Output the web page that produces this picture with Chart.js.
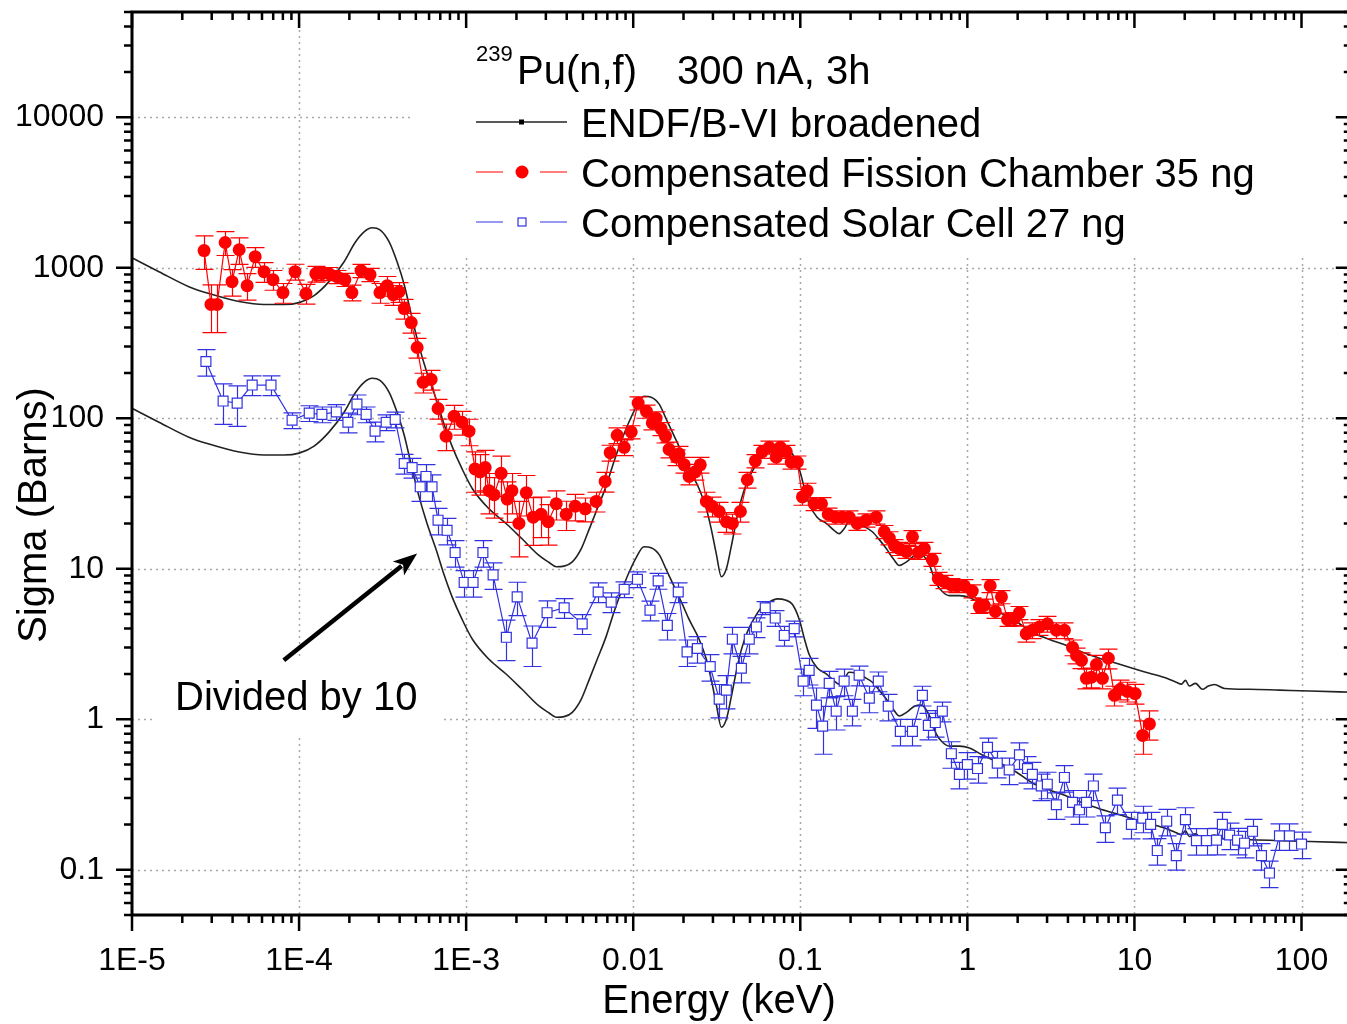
<!DOCTYPE html>
<html>
<head>
<meta charset="utf-8">
<title>239Pu(n,f) cross section</title>
<script src="https://cdn.jsdelivr.net/npm/chart.js@4.4.0/dist/chart.umd.min.js"></script>
<style>
    html, body { margin: 0; padding: 0; background: #fff; overflow: hidden; }
    #wrap { width: 1360px; height: 1024px; }
</style>
</head>
<body>
<div id="wrap"><canvas id="myChart1" width="1360" height="1024"></canvas></div>
<script>
// ENDF/B-VI broadened curve (keV, barns)
const endfEnergy = [
    1e-5, 1.45e-5, 2.19e-5, 2.89e-5, 4.38e-5, 6.17e-5, 8.13e-5, 1e-4, 1.23e-4, 1.51e-4,
    1.86e-4, 2.16e-4, 2.45e-4, 2.74e-4, 3.05e-4, 3.46e-4, 3.86e-4, 4.26e-4, 4.69e-4, 5.23e-4,
    5.84e-4, 6.61e-4, 7.38e-4, 8.24e-4, 9.46e-4, 1.09e-3, 1.37e-3, 1.74e-3, 2.16e-3, 2.74e-3,
    3.14e-3, 3.46e-3, 3.86e-3, 4.32e-3, 4.89e-3, 5.46e-3, 6.09e-3, 6.89e-3, 7.69e-3, 8.59e-3,
    9.46e-3, 1.04e-2, 1.16e-2, 1.28e-2, 1.43e-2, 1.58e-2, 1.76e-2, 1.97e-2, 2.16e-2, 2.48e-2,
    2.74e-2, 2.93e-2, 3.14e-2, 3.37e-2, 3.61e-2, 3.86e-2, 4.14e-2, 4.44e-2, 4.82e-2, 5.31e-2,
    5.84e-2, 6.52e-2, 7.28e-2, 8.13e-2, 8.96e-2, 9.86e-2, 0.106, 0.113, 0.126, 0.143,
    0.160, 0.171, 0.183, 0.196, 0.216, 0.242, 0.270, 0.297, 0.327, 0.361,
    0.392, 0.432, 0.482, 0.531, 0.592, 0.652, 0.708, 0.780, 0.896, 1.03,
    1.23, 1.56, 1.96, 2.45, 3.10, 3.92, 4.89, 6.17, 7.80, 9.73,
    12.3, 15.6, 17.8, 19.1, 20.2, 21.3, 23.2, 25.5, 27.7, 30.1,
    34.6, 48.9, 73.8, 112, 200
];
const endfSigma = [
    1164, 941, 748, 673, 596, 569, 569, 586, 653, 808,
    1096, 1465, 1731, 1841, 1786, 1487, 1096, 771, 489, 300,
    199, 134, 91, 65, 46, 34, 25, 19.9, 15.8, 12.2,
    11.0, 10.3, 10.4, 11.1, 13.6, 18.4, 25, 35.5, 52, 73,
    95, 118, 140, 138, 124, 98, 76, 58, 46, 34,
    25, 18.4, 12.6, 8.85, 10.0, 14.0, 20.8, 29, 38, 47,
    55, 60, 63, 62, 58, 46, 34, 26.9, 22, 20,
    17.9, 17.1, 18.4, 20.5, 20.2, 19.0, 17.6, 15.6, 13.6, 11.6,
    10.5, 11.1, 12.2, 12.4, 10.6, 7.96, 7.05, 6.62, 6.62, 6.43,
    5.78, 5.12, 4.46, 3.77, 3.39, 3.09, 2.78, 2.54, 2.35, 2.18,
    2.02, 1.87, 1.76, 1.71, 1.81, 1.66, 1.73, 1.58, 1.66, 1.70,
    1.60, 1.58, 1.56, 1.54, 1.51
];
const endfDivisor = 10; // lower copy of the curve, "Divided by 10"

// Compensated Fission Chamber 35 ng
const fcEnergy = [
    2.70e-5, 2.97e-5, 3.23e-5, 3.61e-5, 3.97e-5, 4.38e-5, 4.89e-5, 5.46e-5, 6.17e-5, 6.98e-5,
    8.01e-5, 9.46e-5, 1.10e-4, 1.26e-4, 1.37e-4, 1.51e-4, 1.69e-4, 1.88e-4, 2.07e-4, 2.35e-4,
    2.66e-4, 3.05e-4, 3.37e-4, 3.66e-4, 3.97e-4, 4.26e-4, 4.69e-4, 5.09e-4, 5.53e-4, 6.17e-4,
    6.79e-4, 7.59e-4, 8.47e-4, 9.46e-4, 1.04e-3, 1.13e-3, 1.21e-3, 1.30e-3, 1.37e-3, 1.47e-3,
    1.62e-3, 1.76e-3, 1.88e-3, 2.07e-3, 2.29e-3, 2.52e-3, 2.81e-3, 3.10e-3, 3.46e-3, 3.97e-3,
    4.50e-3, 5.16e-3, 6.00e-3, 6.79e-3, 7.28e-3, 8.02e-3, 8.83e-3, 9.73e-3, 1.07e-2, 1.20e-2,
    1.30e-2, 1.37e-2, 1.47e-2, 1.56e-2, 1.64e-2, 1.81e-2, 1.88e-2, 2.02e-2, 2.16e-2, 2.35e-2,
    2.52e-2, 2.74e-2, 2.97e-2, 3.27e-2, 3.61e-2, 3.92e-2, 4.38e-2, 4.82e-2, 5.38e-2, 5.92e-2,
    6.52e-2, 7.18e-2, 7.59e-2, 8.24e-2, 8.83e-2, 9.59e-2, 0.103, 0.110, 0.121, 0.134,
    0.147, 0.162, 0.178, 0.196, 0.219, 0.248, 0.285, 0.318, 0.341, 0.366,
    0.392, 0.432, 0.469, 0.509, 0.553, 0.617, 0.670, 0.728, 0.802, 0.871,
    0.959, 1.07, 1.18, 1.26, 1.37, 1.47, 1.60, 1.74, 1.91, 2.05,
    2.25, 2.45, 2.70, 3.01, 3.41, 3.81, 4.26, 4.50, 4.82, 5.16,
    5.53, 5.92, 6.43, 6.98, 7.59, 8.24, 9.08, 10.1, 11.2, 12.3
];
const fcSigma = [
    1300, 570, 570, 1470, 808, 1316, 760, 1183, 941, 833,
    683, 941, 673, 912, 912, 912, 871, 833, 683, 955,
    899, 683, 760, 662, 693, 535, 432, 295, 173, 181,
    116, 76, 103, 94, 82, 46, 44, 47, 33, 31,
    43, 29, 33, 20, 32, 22, 23, 20.5, 27, 23,
    26, 25, 28, 38, 59, 77, 64, 81, 126, 111,
    93, 100, 85, 76, 62, 55, 58, 49, 41, 44,
    49, 28, 26, 24, 20.5, 20, 24, 39, 52, 60,
    64, 55, 64, 60, 51, 51, 30, 33, 27, 27,
    23, 22, 22, 22, 20, 21, 22, 17.6, 16, 14.2,
    13.6, 13, 16.3, 12.8, 13.6, 11.5, 8.6, 8.2, 7.8, 7.7,
    7.7, 7.1, 5.6, 5.7, 7.7, 5.2, 6.5, 4.6, 4.65, 5.1,
    3.7, 3.9, 4.1, 4.3, 3.9, 3.9, 3.0, 2.65, 2.46, 1.87,
    1.9, 2.31, 1.87, 2.54, 1.44, 1.58, 1.53, 1.48, 0.78, 0.93
];
const fcErrPct = [
    25, 35, 35, 18, 20, 20, 20, 15, 15, 15,
    15, 12, 15, 12, 10, 10, 10, 10, 12, 10,
    10, 15, 15, 15, 15, 15, 15, 15, 15, 15,
    15, 20, 18, 18, 20, 30, 30, 30, 30, 30,
    30, 30, 30, 40, 30, 35, 30, 30, 22, 22,
    20, 18, 15, 15, 12, 12, 12, 10, 10, 10,
    10, 10, 10, 10, 12, 12, 12, 12, 12, 12,
    12, 15, 15, 15, 15, 15, 15, 12, 10, 10,
    10, 10, 10, 10, 10, 10, 12, 12, 10, 10,
    10, 10, 10, 10, 10, 10, 10, 10, 10, 10,
    10, 10, 10, 10, 10, 10, 10, 10, 10, 10,
    10, 10, 10, 10, 10, 10, 10, 10, 10, 10,
    12, 12, 12, 12, 12, 12, 12, 12, 12, 15,
    15, 15, 15, 15, 15, 15, 15, 15, 25, 22
];

// Compensated Solar Cell 27 ng (plotted divided by 10)
const scEnergy = [
    2.77e-5, 3.51e-5, 4.26e-5, 5.24e-5, 6.79e-5, 9.08e-5, 1.15e-4, 1.37e-4, 1.67e-4, 1.96e-4,
    2.22e-4, 2.52e-4, 2.85e-4, 3.32e-4, 3.76e-4, 4.26e-4, 4.75e-4, 5.31e-4, 5.75e-4, 6.25e-4,
    6.79e-4, 7.69e-4, 8.59e-4, 9.73e-4, 1.10e-3, 1.26e-3, 1.45e-3, 1.74e-3, 2.02e-3, 2.48e-3,
    3.05e-3, 3.86e-3, 4.95e-3, 6.17e-3, 7.38e-3, 8.83e-3, 1.06e-2, 1.26e-2, 1.41e-2, 1.60e-2,
    1.86e-2, 2.10e-2, 2.42e-2, 2.89e-2, 3.27e-2, 3.61e-2, 3.92e-2, 4.44e-2, 4.95e-2, 5.46e-2,
    6.17e-2, 7.08e-2, 8.02e-2, 9.20e-2, 0.104, 0.113, 0.125, 0.136, 0.149, 0.164,
    0.183, 0.205, 0.225, 0.259, 0.293, 0.336, 0.397, 0.469, 0.538, 0.584,
    0.643, 0.708, 0.802, 0.896, 1.00, 1.15, 1.32, 1.51, 1.78, 2.05,
    2.29, 2.45, 2.77, 3.01, 3.41, 3.81, 4.26, 4.69, 5.16, 5.68,
    6.70, 7.91, 9.59, 11.2, 12.5, 13.7, 15.6, 17.8, 20.2, 23.5,
    27.0, 31.0, 33.6, 37.1, 41.4, 45.6, 50.9, 57.6, 64.3, 73.8,
    84.7, 100
];
const scSigma = [
    238, 130, 126, 166, 166, 97, 108, 106, 110, 94,
    124, 106, 82, 94, 98, 50, 47, 35, 41, 35,
    21, 18, 12.8, 8.1, 8.1, 12.8, 9.1, 3.5, 6.5, 3.2,
    5.1, 5.5, 4.3, 7.0, 6.0, 7.3, 8.5, 5.3, 8.3, 4.2,
    7.0, 2.8, 2.95, 2.24, 1.36, 1.56, 3.4, 2.18, 3.4, 4.1,
    5.5, 4.7, 3.6, 4.0, 1.79, 2.11, 1.24, 0.90, 1.73, 1.13,
    1.79, 1.13, 1.96, 1.38, 1.79, 1.22, 0.83, 0.83, 1.44, 0.91,
    0.95, 1.13, 0.59, 0.43, 0.50, 0.47, 0.65, 0.51, 0.46, 0.58,
    0.47, 0.43, 0.36, 0.37, 0.27, 0.41, 0.28, 0.25, 0.28, 0.36,
    0.19, 0.29, 0.20, 0.22, 0.20, 0.134, 0.21, 0.124, 0.215, 0.156,
    0.156, 0.157, 0.20, 0.17, 0.157, 0.15, 0.18, 0.124, 0.095, 0.168,
    0.168, 0.148
];
const scErrPct = [
    20, 30, 30, 15, 15, 12, 12, 12, 12, 15,
    15, 12, 15, 12, 12, 15, 15, 20, 20, 20,
    20, 20, 20, 20, 20, 20, 20, 30, 25, 30,
    20, 15, 15, 15, 15, 12, 12, 15, 12, 20,
    15, 20, 20, 20, 25, 25, 20, 20, 20, 15,
    10, 12, 15, 12, 20, 20, 30, 35, 20, 25,
    20, 20, 15, 20, 15, 20, 20, 20, 15, 20,
    20, 15, 20, 20, 20, 20, 15, 20, 20, 20,
    20, 20, 20, 20, 20, 20, 20, 20, 20, 20,
    20, 20, 20, 20, 20, 20, 20, 20, 20, 20,
    20, 20, 20, 20, 20, 20, 20, 20, 20, 20,
    20, 20
];

const xTickValues = [1e-5, 1e-4, 1e-3, 0.01, 0.1, 1, 10, 100];
const xTickLabels = ['1E-5', '1E-4', '1E-3', '0.01', '0.1', '1', '10', '100'];
const yTickValues = [0.1, 1, 10, 100, 1000, 10000];
const yTickLabels = ['0.1', '1', '10', '100', '1000', '10000'];

// annotation anchors in data units (keV, barns)
const arrowFrom = [8.1e-5, 2.46];
const arrowTo = [5.09e-4, 12.6];
const noteAt = [1.81e-5, 1.15];

const FONT = 'Liberation Sans, Arial, sans-serif';
const RED = '#ff0000';
const BLUE = 'rgb(50, 50, 225)';

function toPoints(xs, ys) {
    return xs.map((x, i) => ({ x: x, y: ys[i] }));
}

function logTicks(min, max) {
    const out = [];
    for (let e = Math.floor(Math.log10(min)); e <= Math.ceil(Math.log10(max)); e++) {
        for (let k = 1; k <= 9; k++) {
            const v = k * Math.pow(10, e);
            if (v >= min * 0.999 && v <= max * 1.001) out.push({ v: v, major: k === 1 });
        }
    }
    return out;
}

const errorBars = {
    id: 'errorBars',
    beforeDatasetDraw(chart, args) {
        const ds = chart.data.datasets[args.index];
        if (!ds.errPct) return;
        const { ctx, chartArea, scales: { x, y } } = chart;
        ctx.save();
        ctx.beginPath();
        ctx.rect(chartArea.left, chartArea.top, chartArea.width, chartArea.height);
        ctx.clip();
        ctx.strokeStyle = ds.borderColor;
        ctx.lineWidth = 1.2;
        ctx.beginPath();
        ds.data.forEach((p, i) => {
            const d = p.y * ds.errPct[i] / 100;
            const px = Math.round(x.getPixelForValue(p.x)) + 0.5;
            const t = y.getPixelForValue(p.y + d);
            const b = y.getPixelForValue(p.y - d);
            ctx.moveTo(px, t); ctx.lineTo(px, b);
            ctx.moveTo(px - 9, t); ctx.lineTo(px + 9, t);
            ctx.moveTo(px - 9, b); ctx.lineTo(px + 9, b);
        });
        ctx.stroke();
        ctx.restore();
    }
};

const frame = {
    id: 'frame',
    beforeDatasetsDraw(chart) {
        const { ctx, chartArea: a, scales: { x, y } } = chart;
        ctx.save();
        ctx.strokeStyle = '#a8a8a8';
        ctx.lineWidth = 1.5;
        ctx.setLineDash([2, 4]);
        ctx.beginPath();
        xTickValues.slice(1).forEach(v => {
            const px = Math.round(x.getPixelForValue(v)) + 0.5;
            ctx.moveTo(px, a.top); ctx.lineTo(px, a.bottom);
        });
        yTickValues.forEach(v => {
            const py = Math.round(y.getPixelForValue(v)) + 0.5;
            ctx.moveTo(a.left, py); ctx.lineTo(a.right, py);
        });
        ctx.stroke();
        ctx.setLineDash([]);
        // white backing for legend and note
        ctx.fillStyle = '#fff';
        ctx.fillRect(413, a.top + 2, a.right - 413, 252 - a.top);
        const nx = x.getPixelForValue(noteAt[0]);
        const ny = y.getPixelForValue(noteAt[1]);
        ctx.fillRect(nx - 23, ny - 50, 290, 75);
        ctx.restore();
    },
    afterDraw(chart) {
        const { ctx, chartArea: a, scales: { x, y } } = chart;
        ctx.save();
        ctx.strokeStyle = '#000';
        ctx.lineWidth = 3;
        ctx.strokeRect(a.left, a.top, a.right - a.left, a.bottom - a.top);

        ctx.lineWidth = 2.5;
        ctx.beginPath();
        logTicks(x.min, x.max).forEach(t => {
            const px = x.getPixelForValue(t.v);
            const len = t.major ? 16 : 8;
            ctx.moveTo(px, a.bottom); ctx.lineTo(px, a.bottom + len);
            ctx.moveTo(px, a.top); ctx.lineTo(px, a.top + len);
        });
        logTicks(y.min, y.max).forEach(t => {
            const py = y.getPixelForValue(t.v);
            const len = t.major ? 16 : 8;
            ctx.moveTo(a.left, py); ctx.lineTo(a.left - len, py);
            ctx.moveTo(a.right, py); ctx.lineTo(a.right - len, py);
        });
        ctx.stroke();

        // axis titles
        ctx.fillStyle = '#000';
        ctx.font = '40px ' + FONT;
        ctx.textAlign = 'center';
        ctx.textBaseline = 'alphabetic';
        ctx.fillText('Energy (keV)', 719, 1013);
        ctx.save();
        ctx.translate(46, 515);
        ctx.rotate(-Math.PI / 2);
        ctx.fillText('Sigma (Barns)', 0, 0);
        ctx.restore();

        // legend
        ctx.textAlign = 'left';
        ctx.font = '22px ' + FONT;
        ctx.fillText('239', 476, 61);
        ctx.font = '40px ' + FONT;
        ctx.fillText('Pu(n,f)', 517, 84);
        ctx.fillText('300 nA, 3h', 677, 84);

        const rows = [
            { text: 'ENDF/B-VI broadened', color: '#222', base: 137 },
            { text: 'Compensated Fission Chamber 35 ng', color: RED, base: 187 },
            { text: 'Compensated Solar Cell 27 ng', color: BLUE, base: 237 }
        ];
        rows.forEach((r, i) => {
            const my = r.base - 15;
            ctx.strokeStyle = r.color;
            ctx.lineWidth = i === 0 ? 1.5 : 1.2;
            ctx.beginPath();
            if (i === 0) {
                ctx.moveTo(476, my); ctx.lineTo(567, my);
            } else {
                ctx.moveTo(476, my); ctx.lineTo(503, my);
                ctx.moveTo(540, my); ctx.lineTo(567, my);
            }
            ctx.stroke();
            if (i === 0) {
                ctx.fillStyle = '#000';
                ctx.fillRect(519, my - 2.5, 5, 5);
            } else if (i === 1) {
                ctx.fillStyle = RED;
                ctx.beginPath();
                ctx.arc(522, my, 6.5, 0, Math.PI * 2);
                ctx.fill();
            } else {
                ctx.strokeStyle = BLUE;
                ctx.lineWidth = 1.2;
                ctx.strokeRect(518, my - 4, 8, 8);
            }
            ctx.fillStyle = '#000';
            ctx.fillText(r.text, 581, r.base);
        });

        // "Divided by 10" note with arrow
        const nx = x.getPixelForValue(noteAt[0]);
        const ny = y.getPixelForValue(noteAt[1]);
        ctx.fillText('Divided by 10', nx, ny);
        const x0 = x.getPixelForValue(arrowFrom[0]), y0 = y.getPixelForValue(arrowFrom[1]);
        const x1 = x.getPixelForValue(arrowTo[0]), y1 = y.getPixelForValue(arrowTo[1]);
        const ang = Math.atan2(y1 - y0, x1 - x0);
        const head = 24;
        ctx.strokeStyle = '#000';
        ctx.lineWidth = 4.5;
        ctx.beginPath();
        ctx.moveTo(x0, y0);
        ctx.lineTo(x1 - (head - 4) * Math.cos(ang), y1 - (head - 4) * Math.sin(ang));
        ctx.stroke();
        ctx.fillStyle = '#000';
        ctx.beginPath();
        ctx.moveTo(x1, y1);
        ctx.lineTo(x1 - head * Math.cos(ang) + 9 * Math.sin(ang), y1 - head * Math.sin(ang) - 9 * Math.cos(ang));
        ctx.lineTo(x1 - (head - 6) * Math.cos(ang), y1 - (head - 6) * Math.sin(ang));
        ctx.lineTo(x1 - head * Math.cos(ang) - 9 * Math.sin(ang), y1 - head * Math.sin(ang) + 9 * Math.cos(ang));
        ctx.closePath();
        ctx.fill();
        ctx.restore();
    }
};

const ctx = document.getElementById('myChart1').getContext('2d');
const chart1 = new Chart(ctx, {
    type: 'line',
    data: {
        datasets: [{
            label: 'Compensated Solar Cell 27 ng',
            data: toPoints(scEnergy, scSigma),
            errPct: scErrPct,
            borderColor: BLUE,
            borderWidth: 1.2,
            pointStyle: 'rect',
            pointRadius: 7,
            pointBackgroundColor: '#fff',
            pointBorderColor: BLUE,
            pointBorderWidth: 1.2,
            tension: 0,
            order: 1
        }, {
            label: 'Compensated Fission Chamber 35 ng',
            data: toPoints(fcEnergy, fcSigma),
            errPct: fcErrPct,
            borderColor: RED,
            borderWidth: 1.2,
            pointRadius: 6.5,
            pointBackgroundColor: RED,
            pointBorderColor: RED,
            pointBorderWidth: 0,
            tension: 0,
            order: 2
        }, {
            label: 'ENDF/B-VI broadened',
            data: toPoints(endfEnergy, endfSigma),
            borderColor: '#222',
            borderWidth: 1.6,
            pointRadius: 0,
            cubicInterpolationMode: 'monotone',
            order: 10
        }, {
            label: 'ENDF/B-VI broadened / 10',
            data: toPoints(endfEnergy, endfSigma.map(v => v / endfDivisor)),
            borderColor: '#222',
            borderWidth: 1.6,
            pointRadius: 0,
            cubicInterpolationMode: 'monotone',
            order: 11
        }]
    },
    options: {
        responsive: false,
        animation: false,
        layout: { padding: { top: 12, right: 8, left: 0, bottom: 0 } },
        plugins: {
            legend: { display: false },
            tooltip: { enabled: false }
        },
        scales: {
            x: {
                type: 'logarithmic',
                min: 1e-5,
                max: 200,
                afterBuildTicks: scale => { scale.ticks = xTickValues.map(v => ({ value: v })); },
                afterFit: scale => {
                    scale.height = 109;
                    scale.paddingLeft = 0;
                    scale.paddingRight = 0;
                },
                grid: { display: false, drawTicks: false },
                border: { display: false },
                ticks: {
                    autoSkip: false,
                    maxRotation: 0,
                    padding: 27,
                    color: '#000',
                    font: { family: FONT, size: 32 },
                    callback: value => {
                        const i = xTickValues.findIndex(v => Math.abs(v - value) / v < 1e-6);
                        return i >= 0 ? xTickLabels[i] : '';
                    }
                }
            },
            y: {
                type: 'logarithmic',
                min: 0.05,
                max: 50000,
                afterBuildTicks: scale => { scale.ticks = yTickValues.map(v => ({ value: v })); },
                afterFit: scale => {
                    scale.width = 132;
                    scale.paddingTop = 0;
                    scale.paddingBottom = 0;
                },
                grid: { display: false, drawTicks: false },
                border: { display: false },
                ticks: {
                    autoSkip: false,
                    padding: 28,
                    color: '#000',
                    font: { family: FONT, size: 32 },
                    callback: value => {
                        const i = yTickValues.findIndex(v => Math.abs(v - value) / v < 1e-6);
                        return i >= 0 ? yTickLabels[i] : '';
                    }
                }
            }
        }
    },
    plugins: [errorBars, frame]
});
</script>
</body>
</html>
